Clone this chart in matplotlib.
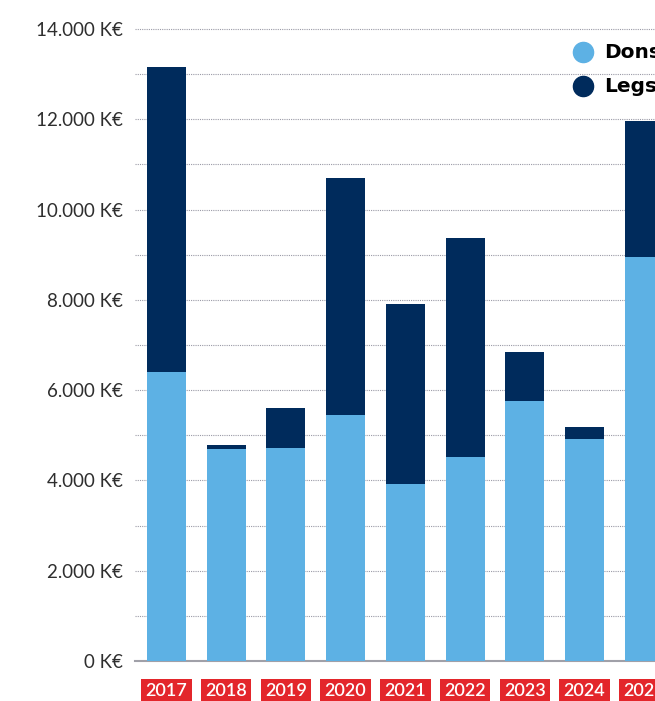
import matplotlib.pyplot as plt
from matplotlib.lines import Line2D
from matplotlib.ticker import FuncFormatter, MultipleLocator

years = ["2017", "2018", "2019", "2020", "2021", "2022", "2023", "2024", "2025"]
dons = [6400, 4700, 4720, 5450, 3920, 4520, 5760, 4920, 8950]
legs = [6760, 80, 880, 5250, 3990, 4850, 1090, 260, 3010]

light_blue = "#5db1e4"
navy = "#002b5c"
red = "#e3262b"

plt.rcParams["font.family"] = ["Lato", "DejaVu Sans"]

W, H = 655, 701
fig = plt.figure(figsize=(W / 100, H / 100), dpi=100)

# axes deliberately run past the right edge, the original is cropped there
px_unit = 59.75
x0, x1 = -0.525, 8.7
ytop = 14100
ax_w = (x1 - x0) * px_unit
ax_h = 632 * ytop / 14000
ax = fig.add_axes([135 / W, 40 / H, ax_w / W, ax_h / H])

x = range(len(years))
ax.bar(x, dons, width=0.65, color=light_blue, zorder=3)
ax.bar(x, legs, bottom=dons, width=0.65, color=navy, zorder=3)

ax.set_xlim(x0, x1)
ax.set_ylim(0, ytop)
ax.yaxis.set_major_locator(MultipleLocator(2000))
ax.yaxis.set_minor_locator(MultipleLocator(1000))
ax.yaxis.set_major_formatter(FuncFormatter(lambda v, p: f"{int(v):,}".replace(",", ".") + "\u202fK€" if v > 0 else "0\u202fK€"))
ax.tick_params(axis="y", which="both", length=0, pad=9, labelsize=13.5, labelcolor="#2e2e2e")
ax.tick_params(axis="x", length=0, labelbottom=False)
ax.grid(axis="y", which="both", color="#9a9aa6", linestyle=(0, (1, 1)), linewidth=0.8, zorder=0)

for s in ["top", "right", "left"]:
    ax.spines[s].set_visible(False)
ax.spines["bottom"].set_color("#a0a0a8")
ax.spines["bottom"].set_linewidth(1.5)
ax.spines["bottom"].set_zorder(2)

trans = ax.get_xaxis_transform()
for i, yr in enumerate(years):
    ax.text(i, -0.047, yr, transform=trans, ha="center", va="center",
            color="white", fontsize=13, fontweight="semibold", clip_on=False,
            bbox=dict(boxstyle="square,pad=0.24", facecolor=red, edgecolor="none"))

# legend (cropped at the right edge like the original)
for label, col, ypx in [("Dons", light_blue, 52), ("Legs", navy, 86)]:
    fig.add_artist(Line2D([583 / W], [1 - ypx / H], marker="o", markersize=14.5,
                          color=col, linestyle="none", transform=fig.transFigure))
    fig.text(604 / W, 1 - ypx / H, label, fontsize=14.5, fontweight="bold",
             family="DejaVu Sans", color="black", va="center", ha="left")

fig.savefig("out.png", dpi=100)
